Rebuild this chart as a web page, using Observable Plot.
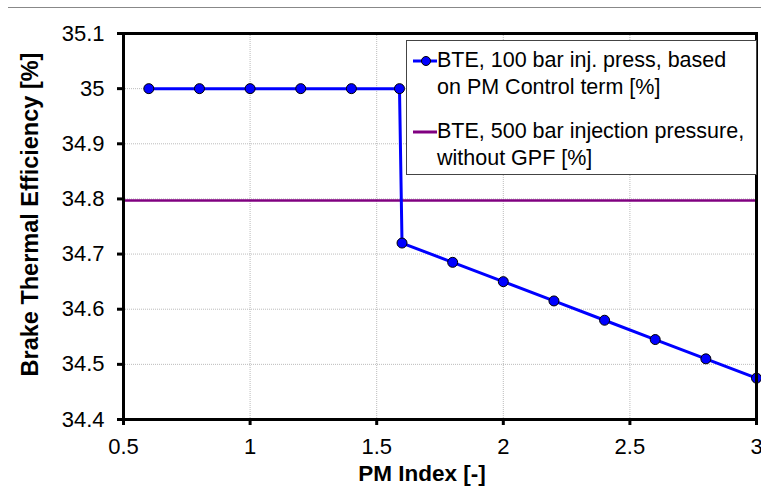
<!DOCTYPE html>
<html><head><meta charset="utf-8">
<script src="https://cdn.jsdelivr.net/npm/d3@7"></script>
<script src="https://cdn.jsdelivr.net/npm/@observablehq/plot@0.6"></script>
<style>
body{margin:0;background:#fff;font-family:Arial,"Liberation Sans",sans-serif;}
#wrap{position:relative;width:761px;height:504px;}
#topline{position:absolute;left:8px;top:7px;width:753px;height:0;border-top:1px solid #888;}
#legend{position:absolute;left:406px;top:40px;width:351px;height:135px;border:1px solid #444;background:#fff;box-sizing:border-box;font-size:21.5px;line-height:27px;color:#000;}
.item{position:absolute;left:6px;}
.sym{position:absolute;left:0;top:0;width:24px;height:27px;}
.txt{position:absolute;left:24px;top:0;white-space:nowrap;}
#chart g[aria-label$="tick label"]{font-size:22px;}
</style></head>
<body><div id="wrap"><div id="topline"></div><div id="chart"></div>
<div id="legend">
 <div class="item" style="top:6px"><svg class="sym" width="24" height="27"><line x1="0" y1="14" x2="24" y2="14" stroke="#0000ff" stroke-width="3"/><circle cx="13" cy="14" r="4.5" fill="#0000ff" stroke="#000" stroke-width="1"/></svg><div class="txt" id="l1"></div></div>
 <div class="item" style="top:77px"><svg class="sym" width="24" height="27"><line x1="0" y1="14" x2="24" y2="14" stroke="#800080" stroke-width="3"/></svg><div class="txt" id="l2"></div></div>
</div></div>
<script>
const xs = [0.6, 0.8, 1.0, 1.2, 1.4, 1.59, 1.6, 1.8, 2.0, 2.2, 2.4, 2.6, 2.8, 3.0];
const bte100 = [35, 35, 35, 35, 35, 35, 34.72, 34.685, 34.65, 34.615, 34.58, 34.545, 34.51, 34.475];
const bte500 = 34.797;
const xTicks = [0.5, 1, 1.5, 2, 2.5, 3];
const yTicks = [34.4, 34.5, 34.6, 34.7, 34.8, 34.9, 35, 35.1];
const legendLabels = ["BTE, 100 bar inj. press, based<br>on PM Control term [%]", "BTE, 500 bar injection pressure,<br>without GPF [%]"];
const xLabel = "PM Index [-]";
const yLabel = "Brake Thermal Efficiency [%]";

document.getElementById("l1").innerHTML = legendLabels[0];
document.getElementById("l2").innerHTML = legendLabels[1];

const data = xs.map((x, i) => ({x, y: bte100[i]}));

const chart = Plot.plot({
  width: 761, height: 504,
  marginLeft: 123, marginRight: 5, marginTop: 33, marginBottom: 85,
  style: {fontFamily: "Arial, 'Liberation Sans', sans-serif", fontSize: "22px", color: "#000", background: "transparent", overflow: "visible"},
  x: {domain: [0.5, 3], ticks: xTicks, tickFormat: d => String(d), label: null},
  y: {domain: [34.4, 35.1], ticks: yTicks, tickFormat: d => String(+d.toFixed(1)), label: null},
  marks: [
    Plot.gridX(xTicks, {stroke: "#aaa", strokeOpacity: 1, strokeWidth: 0.8, strokeDasharray: "1,1"}),
    Plot.gridY(yTicks, {stroke: "#aaa", strokeOpacity: 1, strokeWidth: 0.8, strokeDasharray: "1,1"}),
    Plot.ruleY([bte500], {stroke: "#800080", strokeWidth: 2.5}),
    Plot.line(data, {x: "x", y: "y", stroke: "#0000ff", strokeWidth: 3}),
    Plot.dot(data, {x: "x", y: "y", r: 5, fill: "#0000ff", stroke: "#000", strokeWidth: 1}),
    Plot.frame({stroke: "#000", strokeWidth: 3}),
    Plot.axisX(xTicks, {tickSize: 6, strokeWidth: 3, tickPadding: 13, fontSize: 22, tickFormat: d => String(d)}),
    Plot.axisY(yTicks, {tickSize: 6, strokeWidth: 3, tickPadding: 13, fontSize: 22, tickFormat: d => String(+d.toFixed(1))}),
    Plot.text([xLabel], {frameAnchor: "bottom", dx: -18, dy: 61, fontWeight: "bold", fontSize: 22.5}),
    Plot.text([yLabel], {frameAnchor: "left", dx: -93, dy: -12, rotate: -90, textAnchor: "middle", fontWeight: "bold", fontSize: 23.5})
  ]
});
document.getElementById("chart").appendChild(chart);
</script></body></html>
